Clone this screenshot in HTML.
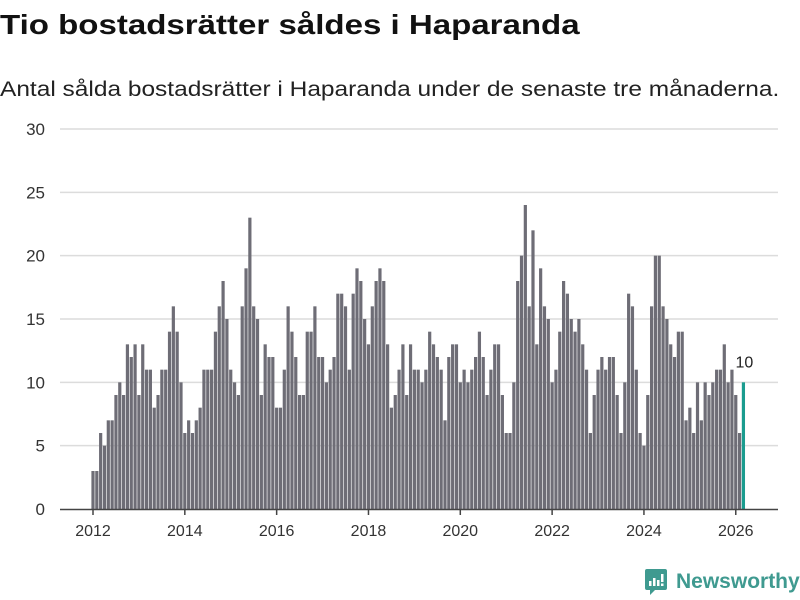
<!DOCTYPE html>
<html><head><meta charset="utf-8"><style>
body{margin:0;background:#fff;width:800px;height:600px;overflow:hidden;font-family:"Liberation Sans",sans-serif}
#title{position:absolute;left:0;top:9px;font-size:28px;font-weight:bold;color:#111;margin:0;transform-origin:0 0;transform:scaleX(1.18);white-space:nowrap}
#sub{position:absolute;left:0;top:78px;font-size:21px;color:#222;margin:0;transform-origin:0 0;transform:scaleX(1.165);white-space:nowrap}
svg{position:absolute;left:0;top:0}
</style></head><body>
<h1 id="title">Tio bostadsrätter såldes i Haparanda</h1>
<p id="sub">Antal sålda bostadsrätter i Haparanda under de senaste tre månaderna.</p>
<svg id="chart" width="800" height="600"></svg>
<script>
const values = [
3,3,6,5,7,7,9,10,9,13,12,13,
9,13,11,11,8,9,11,11,14,16,14,10,
6,7,6,7,8,11,11,11,14,16,18,15,
11,10,9,16,19,23,16,15,9,13,12,12,
8,8,11,16,14,12,9,9,14,14,16,12,
12,10,11,12,17,17,16,11,17,19,18,15,
13,16,18,19,18,13,8,9,11,13,9,13,
11,11,10,11,14,13,12,11,7,12,13,13,
10,11,10,11,12,14,12,9,11,13,13,9,
6,6,10,18,20,24,16,22,13,19,16,15,
10,11,14,18,17,15,14,15,13,11,6,9,
11,12,11,12,12,9,6,10,17,16,11,6,
5,9,16,20,20,16,15,13,12,14,14,7,
8,6,10,7,10,9,10,11,11,13,10,11,
9,6,10];
const yTicks = [0,5,10,15,20,25,30];
const xTickYears = [2012,2014,2016,2018,2020,2022,2024,2026];
const startYear = 2012;

const NS = "http://www.w3.org/2000/svg";
const svg = document.getElementById('chart');
const x0 = 93, monthW = 3.826, yBase = 509, yTop = 129, yMax = 30;
const xs = i => x0 + monthW * i;
const ys = v => yBase - (yBase - yTop) * v / yMax;
function mk(tag, attrs){const e=document.createElementNS(NS,tag);for(const k in attrs)e.setAttribute(k,attrs[k]);svg.appendChild(e);return e;}

yTicks.forEach(t=>{
  if(t>0){const g=mk('line',{x1:60,x2:778,y1:ys(t),y2:ys(t),stroke:'#dcdcdc','stroke-width':1.5});
  
  }
  const l=mk('text',{x:45,y:ys(t)+6,'text-anchor':'end','font-size':17,fill:'#333','font-family':'Liberation Sans, sans-serif'});
  l.textContent=t;
  
  
});

values.forEach((v,i)=>{
  const last = i===values.length-1;
  const r=mk('rect',{x:xs(i)-1.6,y:ys(v),width:3.2,height:yBase-ys(v),fill:last?'#1a9c8f':'#6e6d76'});
  
  
  if(last){
    const t=mk('text',{x:xs(i)+1,y:ys(v)-15,'text-anchor':'middle','font-size':16,fill:'#222','font-family':'Liberation Sans, sans-serif'});
    t.textContent=v;
    
    
  }
});

const ax=mk('line',{x1:60,x2:778,y1:yBase+0.5,y2:yBase+0.5,stroke:'#444','stroke-width':1.5});



xTickYears.forEach(yr=>{
  const x=xs((yr-startYear)*12);
  const tk=mk('line',{x1:x,x2:x,y1:yBase,y2:yBase+6,stroke:'#444','stroke-width':1.5});
  
  
  const l=mk('text',{x:x,y:536,'text-anchor':'middle','font-size':16,fill:'#333','font-family':'Liberation Sans, sans-serif'});
  l.textContent=yr;
  
  
});
</script>
<div style="position:absolute;left:645px;top:569px;display:flex;align-items:center">
  <svg width="22" height="26" viewBox="0 0 22 26" style="position:static">
    <path d="M2 0h18a2 2 0 0 1 2 2v17a2 2 0 0 1-2 2H10l-5 5v-5H2a2 2 0 0 1-2-2V2a2 2 0 0 1 2-2z" fill="#3f9a90"/>
    <rect x="4" y="12" width="2.5" height="5" fill="#fff"/><rect x="8" y="9" width="2.5" height="8" fill="#fff"/><rect x="12" y="11" width="2.5" height="6" fill="#fff"/><rect x="16" y="5" width="2.5" height="8" fill="#fff"/><rect x="16" y="14.5" width="2.5" height="2.5" fill="#fff"/>
  </svg>
  <span style="margin-left:9px;font-size:21px;color:#3f9a90;font-weight:bold">Newsworthy</span>
</div>
</body></html>
